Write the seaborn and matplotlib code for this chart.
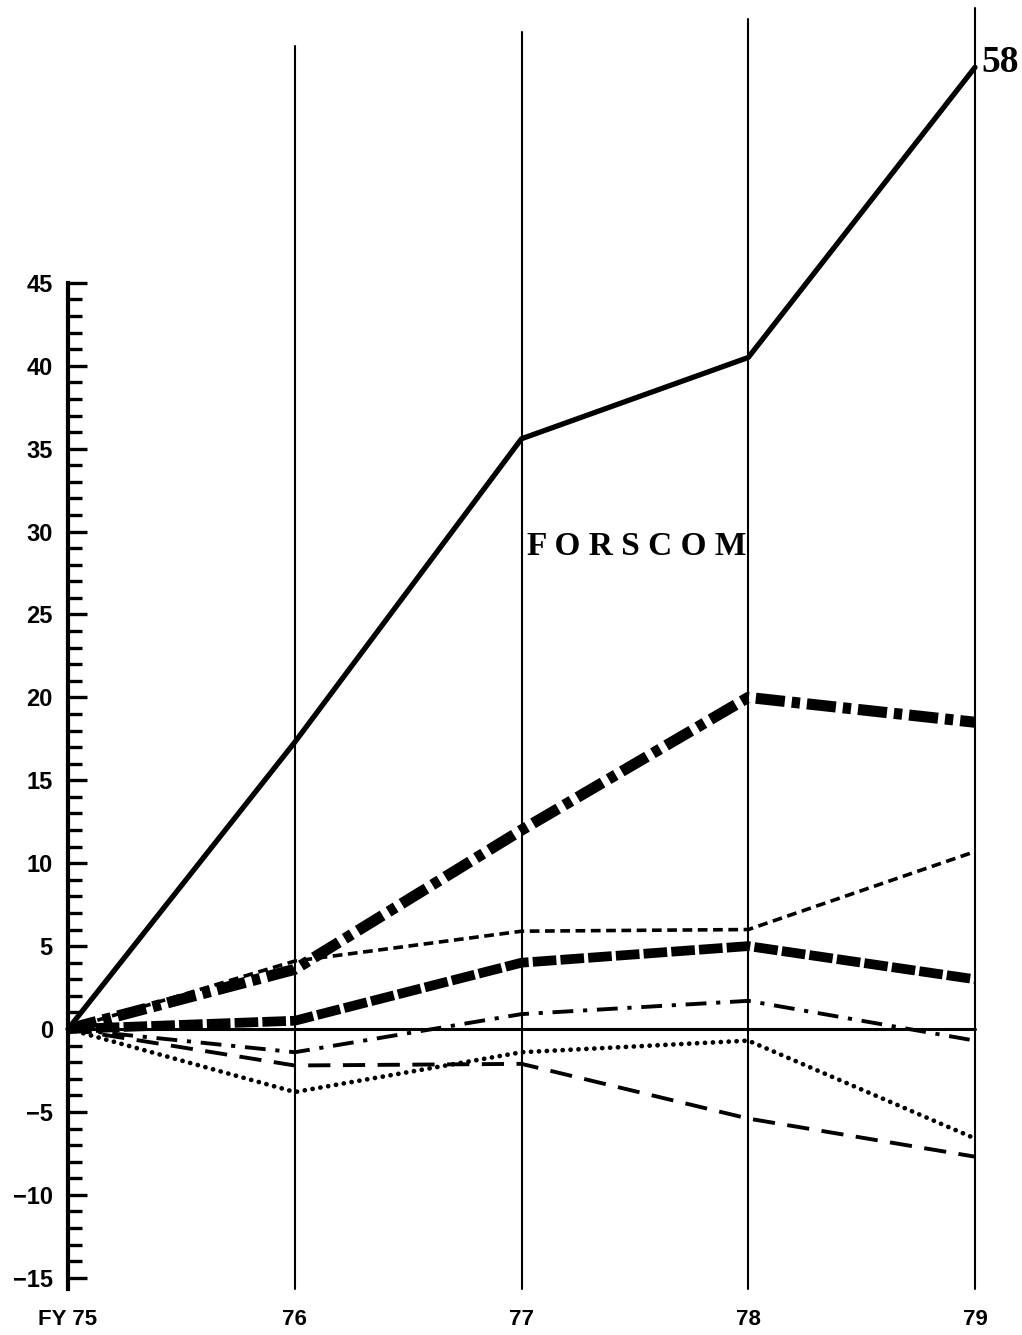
import pandas as pd
import seaborn as sns
import numpy as np
import matplotlib.pyplot as plt
from matplotlib.ticker import FixedLocator

# Fiscal years on the x axis
years = [75, 76, 77, 78, 79]
year_labels = ["FY 75", "76", "77", "78", "79"]

# Series values (percent change from FY 75)
forscom = [0, 17.3, 35.6, 40.5, 58]
thick_dashdot = [0, 3.6, 12.0, 20.0, 18.5]
short_dash = [0, 4.1, 5.9, 6.0, 10.7]
thick_dash = [0, 0.5, 4.0, 5.0, 3.0]
thin_dashdot = [0, -1.4, 0.9, 1.7, -0.7]
long_dash = [0, -2.2, -2.1, -5.4, -7.7]
dotted = [0, -3.8, -1.4, -0.7, -6.6]

# y ticks
major_ticks = list(range(-15, 50, 5))
minor_ticks = list(range(-15, 46, 1))

# tops of the vertical year rules (they lean a bit in the scan)
rule_tops = [59.3, 60.1, 60.9, 61.6]

sns.set_theme(style='white', rc={'text.color': 'black', 'xtick.color': 'black',
                                 'ytick.color': 'black', 'axes.labelcolor': 'black'})
plt.rcParams['font.family'] = ['Liberation Sans', 'DejaVu Sans']
plt.rcParams['lines.scale_dashes'] = False

fig = plt.figure(figsize=(10.22, 13.35), dpi=100)
ax = fig.add_axes([0.0555, 0.0337, 0.9096, 0.9663])

# vertical year rules and zero line
for yr, top in zip(years[1:], rule_tops):
    ax.plot([yr, yr], [-15.7, top], color='black', lw=1.5, clip_on=False)
ax.plot([75, 79], [0, 0], color='black', lw=2.2, clip_on=False)

series = [
    (forscom, dict(lw=3.8, linestyle='-')),
    (thick_dashdot, dict(lw=8, linestyle=(0, (21, 5, 6, 5)), dash_capstyle='butt')),
    (short_dash, dict(lw=2.6, linestyle=(0, (7, 4)), dash_capstyle='butt')),
    (thick_dash, dict(lw=7, linestyle=(0, (17, 3)), dash_capstyle='butt')),
    (thin_dashdot, dict(lw=2.8, linestyle=(0, (15, 7, 3, 7)), dash_capstyle='butt')),
    (long_dash, dict(lw=2.8, linestyle=(0, (16, 9)), dash_capstyle='butt')),
    (dotted, dict(lw=3.4, linestyle=(0, (0.1, 5.6)), dash_capstyle='round')),
]
for vals, style in series:
    df = pd.DataFrame({'year': years, 'value': vals})
    sns.lineplot(data=df, x='year', y='value', ax=ax, color='black',
                 clip_on=False, **style)

ax.set_xlim(74.95, 79.05)
ax.set_ylim(-15.74, 62.06)

for side in ['top', 'right', 'bottom']:
    ax.spines[side].set_visible(False)
ax.spines['left'].set_position(('data', 75))
ax.spines['left'].set_bounds(-15.7, 45)
ax.spines['left'].set_linewidth(3)
ax.spines['left'].set_color('black')

ax.yaxis.set_major_locator(FixedLocator(major_ticks))
ax.yaxis.set_minor_locator(FixedLocator(minor_ticks))
ax.set_yticklabels([f"\u2212{abs(t)}" if t < 0 else str(t) for t in major_ticks],
                   fontsize=17, fontweight='bold', color='black')
ax.tick_params(axis='y', which='major', direction='in', length=14, width=2.4,
               color='black', pad=11, left=True)
ax.tick_params(axis='y', which='minor', direction='in', length=10, width=2.4,
               color='black', left=True)

ax.set_xticks(years)
ax.set_xticklabels(year_labels, fontsize=16, fontweight='bold', color='black')
ax.tick_params(axis='x', length=0, pad=14)

ax.set_xlabel("")
ax.set_ylabel("")
ax.grid(False)

ax.text(77.51, 29.1, "F O R S C O M", fontsize=24, fontweight='bold', color='black',
        family=['Liberation Serif', 'DejaVu Serif'], ha='center', va='center')
ax.text(79.03, 58.3, "58", fontsize=27, fontweight='bold', color='black',
        family=['Liberation Serif', 'DejaVu Serif'], ha='left', va='center')

fig.savefig("out.png", dpi=100)
